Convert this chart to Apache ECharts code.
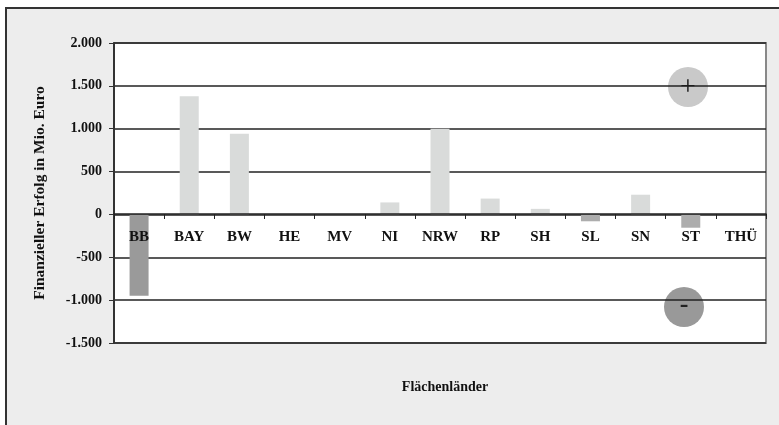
<!DOCTYPE html>
<html>
<head>
<meta charset="utf-8">
<script src="https://cdn.jsdelivr.net/npm/echarts@6/dist/echarts.min.js"></script>
<style>
html,body{margin:0;padding:0;background:#fff;}
#c{width:779px;height:425px;}
</style>
</head>
<body>
<div id="c"></div>
<script>
const categories = ['BB','BAY','BW','HE','MV','NI','NRW','RP','SH','SL','SN','ST','THÜ'];
const values = [-950, 1380, 940, 0, 0, 140, 1000, 185, 65, -80, 230, -155, 0];
const barColors = ['#9a9a9a','#d9dbda','#d9dbda','#d9dbda','#d9dbda','#d9dbda','#d9dbda','#d9dbda','#d9dbda','#adadad','#d9dbda','#adadad','#d9dbda'];
const yTicks = [-1500, -1000, -500, 0, 500, 1000, 1500, 2000];
const yTitle = 'Finanzieller Erfolg in Mio. Euro';
const xTitle = 'Flächenländer';

const FONT = '"Liberation Serif", "Times New Roman", serif';
const chart = echarts.init(document.getElementById('c'), null, {renderer:'canvas'});
function fmt(v){
  const s = Math.abs(v).toString().replace(/\B(?=(\d{3})+(?!\d))/g, '.');
  return (v < 0 ? '-' : '') + s;
}
const yMin = yTicks[0], yMax = yTicks[yTicks.length-1];
const gridTop = 43, gridBottomPx = 343;
// offset of the category axis so it sits on the zero line
const zeroOffset = -Math.round((0 - yMin) / (yMax - yMin) * (gridBottomPx - gridTop));

chart.setOption({
  animation: false,
  backgroundColor: '#ffffff',
  title: {
    text: xTitle, left: 440, top: 375, textAlign: 'center',
    textStyle: {fontFamily: FONT, fontWeight: 'bold', fontSize: 14, color: '#111'}
  },
  grid: {left:114, right:13, top:gridTop, bottom:425-gridBottomPx, show:true, backgroundColor:'#ffffff', borderColor:'#888', borderWidth:2},
  xAxis: {
    type:'category', data: categories, z: 5,
    position:'bottom', offset: zeroOffset,
    axisLine:{show:true, onZero:false, lineStyle:{color:'#222', width:1.5}},
    axisTick:{show:true, length:5, alignWithLabel:false, lineStyle:{color:'#222', width:1}},
    axisLabel:{margin:16, fontFamily:FONT, fontWeight:'bold', fontSize:15, color:'#111', interval:0},
    splitLine:{show:false}
  },
  yAxis: {
    type:'value', min:yMin, max:yMax, interval:500,
    name: yTitle, nameLocation:'middle', nameGap:66,
    nameTextStyle:{fontFamily:FONT, fontWeight:'bold', fontSize:15.5, color:'#111'},
    axisLine:{show:true, lineStyle:{color:'#333', width:2}},
    axisTick:{show:true, length:5, lineStyle:{color:'#333', width:1}},
    axisLabel:{margin:12, formatter: fmt, fontFamily:FONT, fontWeight:'bold', fontSize:14, color:'#111'},
    splitLine:{show:true, lineStyle:{color:'#222', width:1.5}}
  },
  series: [{
    type:'bar', barWidth:19,
    data: values.map((v,i)=>({value:v, itemStyle:{color:barColors[i]}})),
    z: 2
  }],
  graphic: [
    {type:'rect', z:-10, silent:true, shape:{x:6, y:8, width:800, height:500}, style:{fill:'#ededed', stroke:'#333', lineWidth:2}},
    {type:'group', z:100, children:[
      {type:'circle', shape:{cx:688, cy:87, r:20}, style:{fill:'#c9c9c9'}},
      {type:'text', x:688, y:88, style:{text:'+', fontSize:28, fontFamily:FONT, fill:'#111', align:'center', verticalAlign:'middle'}},
      {type:'circle', shape:{cx:684, cy:307, r:20}, style:{fill:'#999999'}},
      {type:'text', x:684, y:305, style:{text:'-', fontSize:26, fontWeight:'bold', fontFamily:FONT, fill:'#222', align:'center', verticalAlign:'middle'}}
    ]}
  ]
});
</script>
</body>
</html>
